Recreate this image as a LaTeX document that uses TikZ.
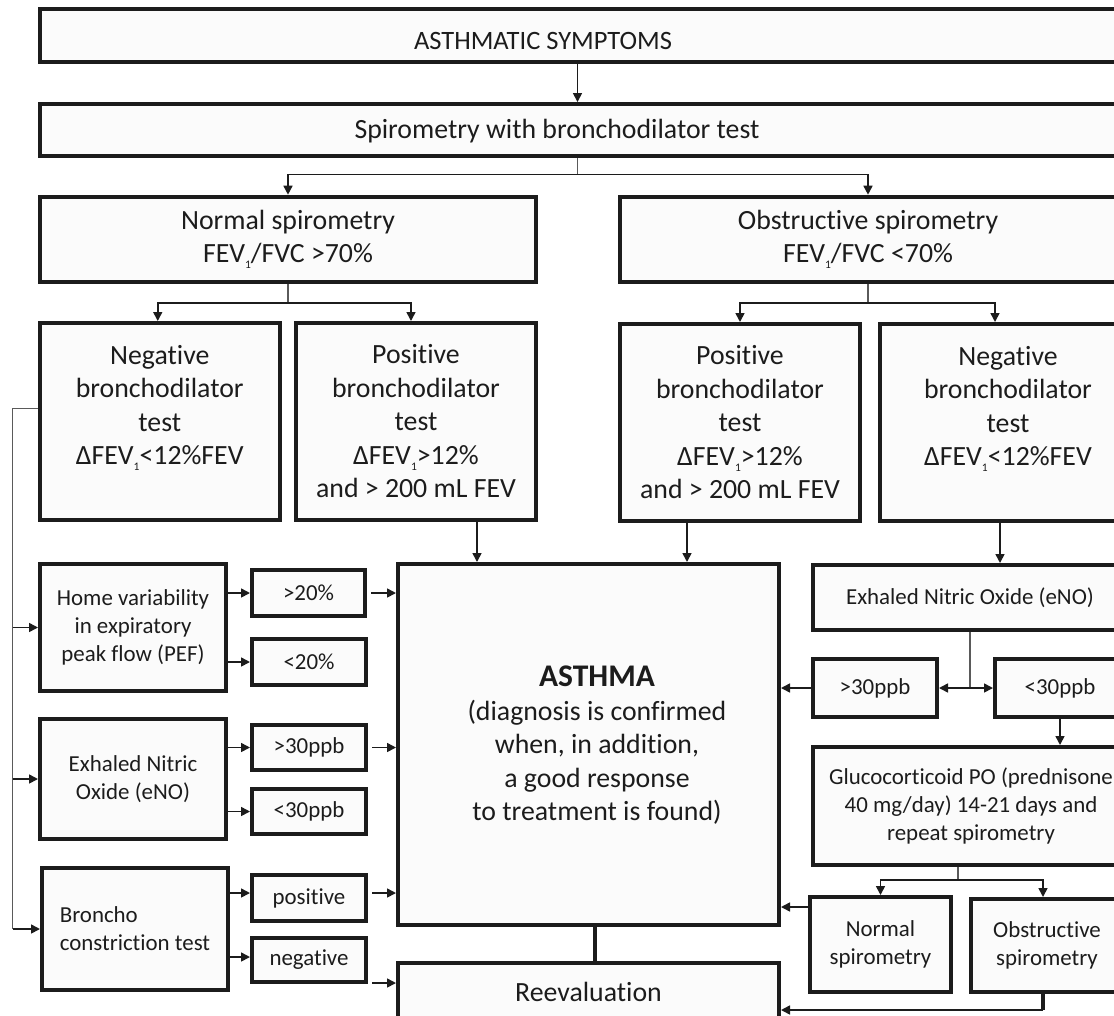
\documentclass[tikz,border=0pt]{standalone}
\usepackage{fontspec}
\setmainfont{Carlito}[Ligatures=NoCommon]
\usetikzlibrary{arrows.meta,calc}
\definecolor{lc}{HTML}{1C1C1C}
\definecolor{bf}{HTML}{FBFBFB}
\definecolor{sg}{HTML}{5A5A5A}
\newcommand{\fbig}{\fontsize{27.8pt}{33.5pt}\selectfont}
\newcommand{\fsmall}{\fontsize{22.9pt}{27.8pt}\selectfont}
\newcommand{\ftop}{\fontsize{26.5pt}{32pt}\selectfont}
\newcommand{\subone}{\raisebox{-0.45ex}{\fontsize{11.5pt}{11.5pt}\selectfont 1}}
\begin{document}
\begin{tikzpicture}[x=1pt,y=-1pt,
  box/.style={draw=lc, line width=4pt, fill=bf, inner sep=0pt, align=center, text=lc},
  lbox/.style={box, font=\fbig},
  sbox/.style={box, font=\fsmall},
  txt/.style={inner sep=0pt, align=center, text=lc},
  arr/.style={draw=lc, line width=1.6pt, -{Triangle[length=9pt,width=9pt]}},
  arrboth/.style={draw=lc, line width=1.6pt, {Triangle[length=9pt,width=9pt]}-{Triangle[length=9pt,width=9pt]}},
  stem/.style={draw=sg, line width=1.3pt},
  thk/.style={draw=lc, line width=4.5pt}]
\useasboundingbox[fill=white] (0,0) rectangle (1114,1015);
\clip (0,0) rectangle (1114,1015);

% top rows
\node[box, minimum width=1210.5pt, minimum height=52.8pt] (top) at (644.75,35.6) {};
\node[txt, font=\ftop] (toptxt) at (543,40.5) {ASTHMATIC SYMPTOMS};
\node[box, minimum width=1210.5pt, minimum height=52.3pt] (spiro) at (644.75,130.2) {};
\node[txt, font=\fbig] (spirotxt) at (557,131.5) {Spirometry with bronchodilator test};

\node[lbox, minimum width=496pt, minimum height=85.3pt] (norm) at (288,239.35) {Normal spirometry\\FEV\subone/FVC >70\%};
\node[lbox, minimum width=496pt, minimum height=85.3pt] (obst) at (868,239.35) {Obstructive spirometry\\FEV\subone/FVC <70\%};

% row 3
\node[lbox, minimum width=239.5pt, minimum height=197pt] (negL) at (159.75,421.5) {Negative\\bronchodilator\\test\\ΔFEV\subone<12\%FEV\\\mbox{}};
\node[lbox, minimum width=240pt, minimum height=197pt] (posL) at (416,421.5) {Positive\\bronchodilator\\test\\ΔFEV\subone>12\%\\and > 200 mL FEV};
\node[lbox, minimum width=240pt, minimum height=197pt] (posR) at (740,422.5) {Positive\\bronchodilator\\test\\ΔFEV\subone>12\%\\and > 200 mL FEV};
\node[lbox, minimum width=256pt, minimum height=197pt] (negR) at (1008,422.5) {Negative\\bronchodilator\\test\\ΔFEV\subone<12\%FEV\\\mbox{}};

% left column
\node[sbox, minimum width=186pt, minimum height=127pt] (home) at (133,627.5) {Home variability\\in expiratory\\peak flow (PEF)};
\node[sbox, minimum width=113pt, minimum height=46pt] (gt20) at (308.5,593) {>20\%};
\node[sbox, minimum width=114pt, minimum height=46pt] (lt20) at (309,662) {<20\%};
\node[sbox, minimum width=186pt, minimum height=120pt] (enoL) at (133,779) {Exhaled Nitric\\Oxide (eNO)};
\node[sbox, minimum width=114pt, minimum height=45pt] (gt30L) at (309,747.5) {>30ppb};
\node[sbox, minimum width=114pt, minimum height=45pt] (lt30L) at (309,811.5) {<30ppb};
\node[sbox, minimum width=186pt, minimum height=122pt, align=left] (bron) at (135,929) {Broncho\\constriction test};
\node[sbox, minimum width=114pt, minimum height=46pt] (posb) at (309,898) {positive};
\node[sbox, minimum width=114pt, minimum height=44pt] (negb) at (309,960) {negative};

% centre
\node[box, minimum width=381pt, minimum height=361pt] (asthma) at (588.5,744.5) {};
\node[txt, font=\fbig] (asthmatxt) at (597,745.5) {{\fontsize{31.5pt}{35pt}\selectfont\bfseries ASTHMA}\\(diagnosis is confirmed\\when, in addition,\\a good response\\to treatment is found)};
\node[lbox, minimum width=381pt, minimum height=58pt] (reeval) at (588.5,992) {Reevaluation};

% right column
\node[sbox, minimum width=314pt, minimum height=65pt] (enoR) at (970,597.5) {Exhaled Nitric Oxide (eNO)};
\node[sbox, minimum width=124pt, minimum height=58pt] (gt30R) at (875,688) {>30ppb};
\node[sbox, minimum width=130pt, minimum height=58pt] (lt30R) at (1060,688) {<30ppb};
\node[sbox, minimum width=316pt, minimum height=118pt] (gluco) at (971,806) {Glucocorticoid PO (prednisone\\40 mg/day) 14-21 days and\\repeat spirometry};
\node[sbox, minimum width=141pt, minimum height=95pt] (nsm) at (880.5,944.5) {Normal\\spirometry};
\node[sbox, minimum width=152pt, minimum height=93pt] (osm) at (1047,945.5) {Obstructive\\spirometry};

% connectors
\coordinate (xa) at (577.5,0);
\coordinate (xb) at (477,0);
\coordinate (xc) at (687,0);
\coordinate (xd) at (1000,0);
\coordinate (xe) at (595,0);
\coordinate (xf) at (12.5,0);
\coordinate (xg) at (958,0);
\coordinate (xh) at (1043,0);

\draw[arr] (top.south -| xa) -- (spiro.north -| xa);
\draw[stem] (spiro.south -| xa) -- ++(0,16) coordinate (s1);
\draw[arr] (s1) -| (norm.north);
\draw[arr] (s1) -| (obst.north);

\draw[stem] (norm.south) -- ++(0,19) coordinate (s2);
\draw[arr] (s2) -| ([xshift=-2pt]negL.north);
\draw[arr] (s2) -| ([xshift=-5pt]posL.north);
\draw[stem] (obst.south) -- ++(0,19) coordinate (s3);
\draw[arr] (s3) -| (posR.north);
\draw[arr] (s3) -| ([xshift=-13pt]negR.north);

\draw[arr] (posL.south -| xb) -- (asthma.north -| xb);
\draw[arr] (posR.south -| xc) -- (asthma.north -| xc);
\draw[arr] (negR.south -| xd) -- (enoR.north -| xd);

\draw[stem] ([yshift=13pt]negL.west) -| (xf |- bron.west);
\draw[arr] (xf |- home.west) -- (home.west);
\draw[arr] (xf |- enoL.west) -- (enoL.west);
\draw[arr] (xf |- bron.west) -- (bron.west);

\draw[arr] (home.east |- gt20.west) -- (gt20.west);
\draw[arr] (home.east |- lt20.west) -- (lt20.west);
\draw[arr] (enoL.east |- gt30L.west) -- (gt30L.west);
\draw[arr] (enoL.east |- lt30L.west) -- (lt30L.west);
\draw[arr] ([yshift=5pt]bron.east |- posb.west) -- ([yshift=5pt]posb.west);
\draw[arr] ([yshift=3pt]bron.east |- negb.west) -- ([yshift=3pt]negb.west);

\draw[arr] ([xshift=4pt]gt20.east) -- (asthma.west |- gt20.east);
\draw[arr] ([xshift=4pt]gt30L.east) -- (asthma.west |- gt30L.east);
\draw[arr] ([xshift=4pt,yshift=5pt]posb.east) coordinate (p1) -- (asthma.west |- p1);
\draw[arr] ([xshift=4pt,yshift=-23pt]negb.east) coordinate (n1) -- (reeval.west |- n1);

\draw[thk] (asthma.south -| xe) -- (reeval.north -| xe);

\draw[stem] (enoR.south) -- (enoR.south |- gt30R.east);
\draw[arrboth] (gt30R.east) -- (lt30R.west);
\draw[arr] (gt30R.west) -- (asthma.east |- gt30R.west);
\draw[arr] (lt30R.south) -- (gluco.north -| lt30R.south);
\draw[stem] (gluco.south -| xg) -- ++(0,13) coordinate (s4);
\draw[arr] (s4) -| (nsm.north);
\draw[arr] (s4) -| ([xshift=-4pt]osm.north);
\draw[arr] ([yshift=37.5pt]nsm.west) coordinate (n2) -- (asthma.east |- n2);
\draw[thk] (osm.south -| xh) -- ++(0,16) coordinate (r1);
\draw[arr] (r1) -- (reeval.east |- r1);
\end{tikzpicture}
\end{document}
